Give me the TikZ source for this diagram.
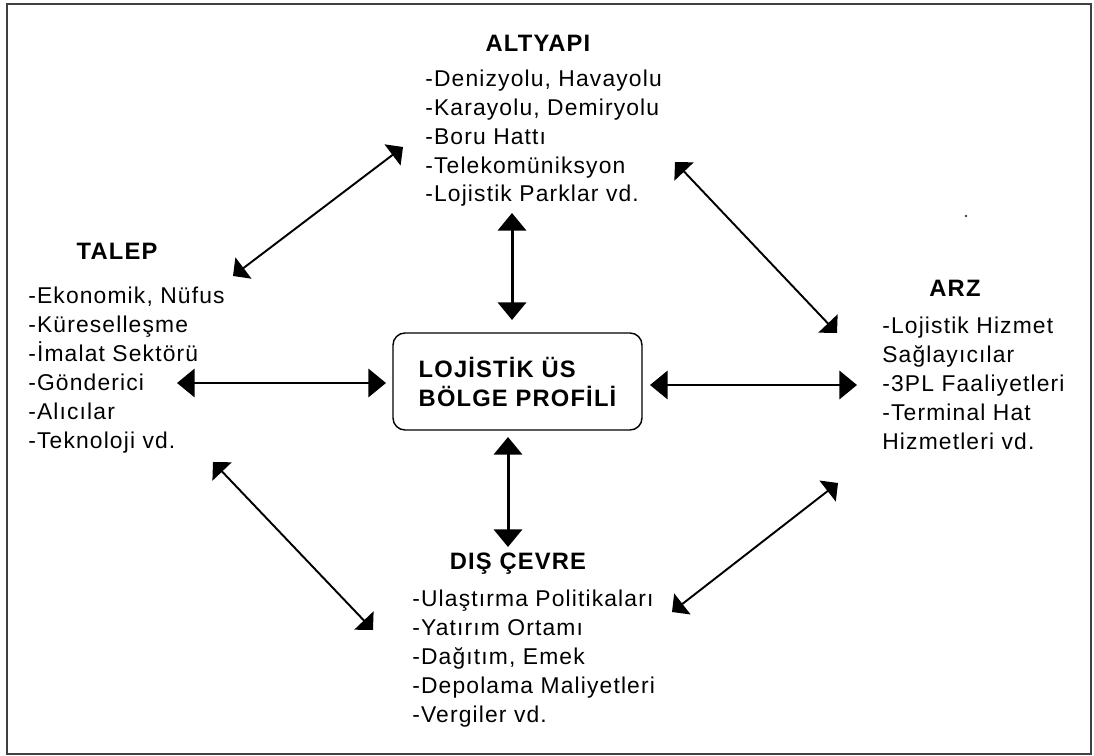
\documentclass[tikz,border=0pt]{standalone}
\usepackage{fontspec}
\setmainfont{Liberation Sans}[LetterSpace=5]
\usetikzlibrary{arrows.meta}

\begin{document}
\begin{tikzpicture}[
  x=0.2mm,
  y=-0.2mm,
  line join=miter,
  frame/.style={draw=black!75,line width=1.1pt},
  hubbox/.style={draw=black,line width=0.8pt,rounded corners=2.4mm,
    align=left,inner sep=0pt,minimum width=49.8mm,
    minimum height=19.4mm,font=\fontsize{13.5}{16.5}\selectfont\bfseries},
  title/.style={anchor=base,inner sep=0pt,font=\fontsize{13.5}{16.5}\selectfont\bfseries},
  list/.style={anchor=base west,align=left,inner sep=0pt,font=\fontsize{13}{16.5}\selectfont},
  link/.style={line width=1.7pt,
    {Triangle[length=10pt,width=16pt]}-{Triangle[length=10pt,width=16pt]}},
  slant/.style={line width=1.1pt,
    {Triangle[length=7.5pt,width=15pt]}-{Triangle[length=7.5pt,width=15pt]}}
]
  \useasboundingbox (0,0) rectangle (1094,756);
  \draw[frame] (7,4) rectangle (1091,754);

  % Central box.
  \node[hubbox] (hub) at (517.5,381.5) {LOJİSTİK ÜS\\BÖLGE PROFİLİ};

  % Headings.
  \node[title] (altyapi) at (538,52) {ALTYAPI};
  \node[title] (talep) at (117,260) {TALEP};
  \node[title] (arz) at (955,297) {ARZ};
  \node[title] (discevre) at (518,569) {DIŞ ÇEVRE};

  % Item lists under the headings (placed by their last line).
  \node[list] (altyapi-list) at (425,202) {-Denizyolu, Havayolu\\-Karayolu, Demiryolu\\-Boru Hattı\\-Telekomüniksyon\\-Lojistik Parklar vd.};
  \node[list] (talep-list) at (28,448) {-Ekonomik, Nüfus\\-Küreselleşme\\-İmalat Sektörü\\-Gönderici\\-Alıcılar\\-Teknoloji vd.};
  \node[list] (arz-list) at (882,449) {-Lojistik Hizmet\\Sağlayıcılar\\-3PL Faaliyetleri\\-Terminal Hat\\Hizmetleri vd.};
  \node[list] (discevre-list) at (412,722) {-Ulaştırma Politikaları\\-Yatırım Ortamı\\-Dağıtım, Emek\\-Depolama Maliyetleri\\-Vergiler vd.};

  % Arrow ends.
  \coordinate (up-a) at (512,213);
  \coordinate (up-b) at (512,320);
  \coordinate (down-a) at (508,437);
  \coordinate (down-b) at (508,547);
  \coordinate (left-a) at (177,383);
  \coordinate (left-b) at (386,383);
  \coordinate (right-a) at (650,385);
  \coordinate (right-b) at (857,385);
  \coordinate (tl-a) at (233,276);
  \coordinate (tl-b) at (403,147);
  \coordinate (tr-a) at (675,162);
  \coordinate (tr-b) at (837,333);
  \coordinate (bl-a) at (213,462);
  \coordinate (bl-b) at (373,630);
  \coordinate (br-a) at (672,612);
  \coordinate (br-b) at (838,483);

  % Straight links around the hub.
  \foreach \p in {up,down,left,right} {
    \draw[link] (\p-a) -- (\p-b);
  }

  % Diagonal links between the corners.
  \foreach \p in {tl,tr,bl,br} {
    \draw[slant] (\p-a) -- (\p-b);
  }

  \fill (966,216) circle[radius=1.2];
\end{tikzpicture}
\end{document}
